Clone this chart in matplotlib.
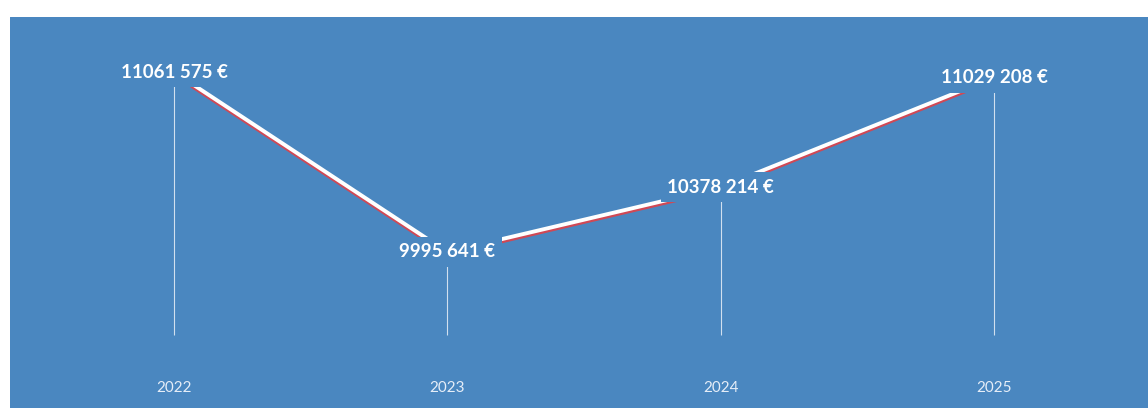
import matplotlib
matplotlib.use("Agg")
import matplotlib.pyplot as plt
import matplotlib.patheffects as pe
import matplotlib.transforms as mtransforms

# yearly totals in euros
years = [2022, 2023, 2024, 2025]
totals = [11061575, 9995641, 10378214, 11029208]
labels = ["11061 575 €", "9995 641 €", "10378 214 €", "11029 208 €"]

bg = "#4a87c0"

fig = plt.figure(figsize=(11.48, 4.08), dpi=100, facecolor="white")
ax = fig.add_axes([10 / 1148, 0, 1138 / 1148, 391 / 408], facecolor=bg)
ax.set_xlim(2021.40, 2025.5635)
ax.set_ylim(9071783, 11387285)
ax.axis("off")
ax.add_patch(plt.Rectangle((0, 0), 1, 1, transform=ax.transAxes, color=bg, zorder=0))

# thin drop lines from each point to the bottom
ax.vlines(years, 9504089, totals, color="white", lw=0.8, alpha=0.75, zorder=1)

# main line, white with a reddish shadow under it
ax.plot(years, totals, color="white", lw=2.8, solid_capstyle="butt", zorder=2,
        path_effects=[pe.SimpleLineShadow(offset=(0, -1.6), shadow_color="#d8454f", alpha=0.95),
                      pe.Normal()])

for x, y, s in zip(years, totals, labels):
    ax.text(x, y, s, ha="center", va="center", color="white", fontsize=13.5,
            fontfamily="Lato", fontweight="bold", zorder=3,
            bbox=dict(boxstyle="square,pad=0.35", fc=bg, ec="none"))

trans = mtransforms.blended_transform_factory(ax.transData, ax.transAxes)
for x in years:
    ax.text(x, 0.05, str(x), transform=trans, ha="center", va="center",
            color="#e6eef8", fontsize=11, fontfamily="Lato")

fig.savefig("out.png", dpi=100, facecolor="white")
